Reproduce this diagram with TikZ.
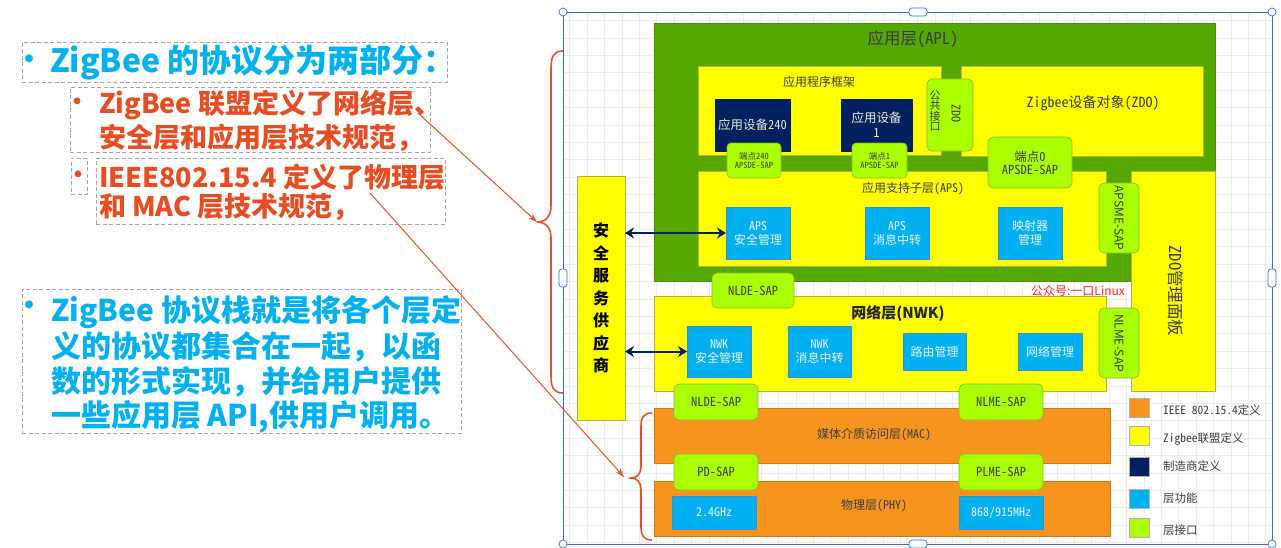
\documentclass[tikz,border=0pt]{standalone}
\usepackage{fontspec}
\setmainfont{Noto Sans CJK SC}
\newfontfamily\hwfont{Noto Sans CJK SC}[RawFeature=+hwid]
\usetikzlibrary{arrows.meta}
\definecolor{cgrn}{HTML}{55A800}
\definecolor{cgrnb}{HTML}{4A8F00}
\definecolor{cyel}{HTML}{FFFF00}
\definecolor{cyelb}{HTML}{B0B050}
\definecolor{csap}{HTML}{AAFF00}
\definecolor{csapb}{HTML}{8DB82E}
\definecolor{cblue}{HTML}{00B0F0}
\definecolor{cblueb}{HTML}{3D8FC0}
\definecolor{cbluet}{HTML}{EAF2FF}
\definecolor{cnavy}{HTML}{002060}
\definecolor{cnavyt}{HTML}{E8E8D8}
\definecolor{corg}{HTML}{F7941D}
\definecolor{corgb}{HTML}{C8781E}
\definecolor{ctxt}{HTML}{3C3C3C}
\definecolor{cred}{HTML}{E8502A}
\definecolor{credt}{HTML}{E84C22}
\definecolor{cblu}{HTML}{00B0F0}
\definecolor{cframe}{HTML}{2F6FE0}
\definecolor{cgrid}{HTML}{ECECEC}
\definecolor{cdash}{HTML}{A6A6A6}
\definecolor{cwm}{HTML}{FF2020}
\newcommand\fsz[2]{\fontsize{#1}{#2}\selectfont}
\begin{document}
\begin{tikzpicture}[x=1pt,y=-1pt,
  base/.style={inner sep=0pt, outer sep=0pt, anchor=north west, align=center},
  wh/.style 2 args={minimum width=#1pt, minimum height=#2pt},
  yel/.style={base, fill=cyel, draw=cyelb, line width=0.5pt, text=ctxt},
  grn/.style={base, fill=cgrn, draw=cgrnb, line width=0.5pt},
  sapbox/.style={base, fill=csap, draw=csapb, line width=0.6pt, rounded corners=5pt, text=ctxt, font=\hwfont\fsz{12.5}{15}},
  fun/.style={base, fill=cblue, draw=cblueb, line width=0.5pt, text=cbluet, font=\hwfont\fsz{12}{14}},
  mfr/.style={base, fill=cnavy, draw=cnavy, line width=0.5pt, text=cnavyt, font=\hwfont\fsz{12.5}{15}},
  orn/.style={base, fill=corg, draw=corgb, line width=0.5pt, text=ctxt},
  lbl/.style={inner sep=0pt, outer sep=0pt, text=ctxt, font=\hwfont\fsz{12}{14}},
  dbox/.style={base, draw=cdash, dash pattern=on 4pt off 2.5pt, line width=0.8pt},
  bluetxt/.style={inner sep=0pt, outer sep=0pt, anchor=west, text=cblu, font=\bfseries\fsz{30}{35}},
  redtxt/.style={inner sep=0pt, outer sep=0pt, anchor=west, text=credt, font=\bfseries\fsz{27}{33}},
  legsq/.style={base, wh={20}{19}, draw=black!30, line width=0.5pt},
  legtxt/.style={inner sep=0pt, outer sep=0pt, anchor=west, text=ctxt, font=\hwfont\fsz{11.5}{14}},
  redarrow/.style={draw=cred, line width=1pt, -{Stealth[length=9pt,width=6pt]}},
  bracestyle/.style={draw=cred, line width=1.6pt},
  dblarrow/.style={draw=cnavy, line width=2pt, {Stealth[length=9pt,width=11pt,inset=3pt]}-{Stealth[length=9pt,width=11pt,inset=3pt]}},
  handle/.style={draw=cframe, fill=white, line width=0.7pt}
]
\useasboundingbox (0,0) rectangle (1281,547);
\fill[white] (0,0) rectangle (1281,547);

% grid
\foreach \i in {0,...,40} {\draw[cgrid, line width=0.5pt] ({569.6+17.4*\i},12) -- ({569.6+17.4*\i},544);}
\foreach \j in {0,...,30} {\draw[cgrid, line width=0.5pt] (563,{20.5+17.4*\j}) -- (1272,{20.5+17.4*\j});}

% left texts
\node[dbox, wh={425}{40}] (box1) at (22,42) {};
\node[inner sep=0pt, text=cblu, font=\bfseries\fsz{28}{28}] (bul1) at (30,62) {•};
\node[bluetxt, font=\bfseries\fsz{32}{36}] (t1) at (50,62) {ZigBee 的协议分为两部分：};

\node[dbox, wh={360}{65}] (box2) at (70,87) {};
\node[inner sep=0pt, text=credt, font=\bfseries\fsz{24}{24}] (bul2) at (77,104) {•};
\node[redtxt] (t2a) at (99,105) {ZigBee 联盟定义了网络层、};
\node[redtxt] (t2b) at (99,138) {安全层和应用层技术规范，};

\node[dbox, wh={16}{36}] (box3) at (71,158) {};
\node[inner sep=0pt, text=credt, font=\bfseries\fsz{24}{24}] (bul3) at (78,177) {•};
\node[dbox, wh={349}{66}] (box4) at (96,158) {};
\node[redtxt] (t3a) at (99,177) {IEEE802.15.4 定义了物理层};
\node[redtxt] (t3b) at (99,207) {和 MAC 层技术规范，};

\node[dbox, wh={439}{144}] (box5) at (22,289) {};
\node[inner sep=0pt, text=cblu, font=\bfseries\fsz{28}{28}] (bul5) at (30,308) {•};
\node[bluetxt] (t5a) at (51,312) {ZigBee 协议栈就是将各个层定};
\node[bluetxt] (t5b) at (51,347) {义的协议都集合在一起，以函};
\node[bluetxt] (t5c) at (51,382) {数的形式实现，并给用户提供};
\node[bluetxt] (t5d) at (51,417) {一些应用层 API,供用户调用。};

% selection frame
\draw[cframe, line width=0.9pt] (563,12) rectangle (1272,544);

% APL
\node[grn, wh={561}{258}] (apl) at (654,23) {};
\node[lbl, font=\hwfont\fsz{16.5}{18}] (aplt) at (913,39) {应用层(APL)};
\node[yel, wh={243}{89}] (fw) at (698,66) {};
\node[lbl] (fwt) at (819,82) {应用程序框架};
\node[yel, wh={242}{90}] (zdo) at (961,66) {};
\node[lbl, font=\hwfont\fsz{14}{16}] (zdot) at (1093,103) {Zigbee设备对象(ZDO)};
\node[mfr, wh={75}{52}] (dev240) at (715,99) {应用设备240};
\node[mfr, wh={71}{52}] (dev1) at (841,99) {应用设备\\1};
\node[yel, wh={408}{95}] (aps) at (698,171) {};
\node[lbl] (apst) at (913,189) {应用支持子层(APS)};
\node[sapbox, wh={54}{35}, rounded corners=4pt, font=\hwfont\fsz{8.5}{9}] (ep240) at (727,143) {端点240\\APSDE-SAP};
\node[sapbox, wh={55}{35}, rounded corners=4pt, font=\hwfont\fsz{8.5}{9}] (ep1) at (852,143) {端点1\\APSDE-SAP};
\node[sapbox, wh={84}{51}, rounded corners=6pt, font=\hwfont\fsz{12.5}{13}] (ep0) at (988,137) {端点0\\APSDE-SAP};
\node[sapbox, wh={46}{72}] (zdoif) at (927,79) {};
\node[lbl, font=\hwfont\fsz{11}{10.5}, align=center] (zdoifa) at (935,111) {公\\共\\接\\口};
\node[lbl, font=\hwfont\fsz{12}{12}, rotate=-90] (zdoifb) at (956,113) {ZDO};
\node[yel, wh={84}{220}] (zdomgr) at (1131,171) {};
\node[lbl, font=\hwfont\fsz{16.5}{16}, rotate=-90] (zdomgrt) at (1176,291) {ZDO管理面板};
\node[sapbox, wh={40}{70}] (apsme) at (1099,183) {};
\node[lbl, font=\fsz{12}{12}, rotate=-90] (apsmet) at (1119,218) {APSME-SAP};
\node[fun, wh={64}{52}] (apssec) at (726,207) {APS\\安全管理};
\node[fun, wh={64}{52}] (apsmsg) at (865,207) {APS\\消息中转};
\node[fun, wh={64}{52}] (mapper) at (998,207) {映射器\\管理};

% NWK
\node[yel, wh={452}{95}] (nwk) at (654,296) {};
\node[lbl, font=\bfseries\fsz{15}{17}, text=black!85] (nwkt) at (898,314) {网络层(NWK)};
\node[sapbox, wh={82}{35}] (nldeu) at (712,273) {NLDE-SAP};
\node[fun, wh={64}{51}] (nwksec) at (687,326) {NWK\\安全管理};
\node[fun, wh={63}{51}] (nwkmsg) at (788,326) {NWK\\消息中转};
\node[fun, wh={63}{37}] (route) at (903,333) {路由管理};
\node[fun, wh={64}{37}] (netm) at (1018,333) {网络管理};
\node[sapbox, wh={40}{70}] (nlmer) at (1099,308) {};
\node[lbl, font=\fsz{12}{12}, rotate=-90] (nlmert) at (1119,343) {NLME-SAP};
\node[inner sep=0pt, text=cwm, font=\fsz{12}{12}] (wm) at (1078,291) {公众号:一口Linux};

% MAC / PHY
\node[orn, wh={456}{55}] (mac) at (654,408) {};
\node[lbl] (mact) at (874,435) {媒体介质访问层(MAC)};
\node[sapbox, wh={84}{36}] (nldel) at (674,384) {NLDE-SAP};
\node[sapbox, wh={84}{36}] (nlmel) at (959,384) {NLME-SAP};
\node[orn, wh={456}{55}] (phy) at (654,481) {};
\node[lbl] (phyt) at (874,506) {物理层(PHY)};
\node[sapbox, wh={84}{36}] (pdsap) at (674,454) {PD-SAP};
\node[sapbox, wh={84}{36}] (plme) at (959,454) {PLME-SAP};
\node[fun, wh={84}{33}] (ghz) at (672,496) {2.4GHz};
\node[fun, wh={84}{33}] (mhz) at (959,496) {868/915MHz};

% security provider
\node[yel, wh={48}{244}] (sec) at (577,176) {};
\node[inner sep=0pt, text=black, font=\bfseries\fsz{16}{22.5}, align=center] (sect) at (601,298) {安\\全\\服\\务\\供\\应\\商};
\draw[dblarrow] (sec.east |- apssec.west) -- (apssec.west);
\draw[dblarrow] (sec.east |- nwksec.west) -- (nwksec.west);

% legend
\node[legsq, fill=corg] (lg1) at (1129,398) {};
\node[legsq, fill=cyel] (lg2) at (1129,426) {};
\node[legsq, fill=cnavy] (lg3) at (1129,457) {};
\node[legsq, fill=cblue] (lg4) at (1129,489) {};
\node[legsq, fill=csap] (lg5) at (1129,518) {};
\node[legtxt] (lt1) at (1163,410) {IEEE 802.15.4定义};
\node[legtxt] (lt2) at (1163,439) {Zigbee联盟定义};
\node[legtxt] (lt3) at (1163,466) {制造商定义};
\node[legtxt] (lt4) at (1163,498) {层功能};
\node[legtxt] (lt5) at (1163,530) {层接口};

% braces
\draw[bracestyle] (563,51) .. controls (554,51) and (551,56) .. (551,68) -- (551,206) .. controls (551,216) and (546,222) .. (537,222) .. controls (546,222) and (551,228) .. (551,238) -- (551,376) .. controls (551,388) and (554,393) .. (563,393);
\draw[bracestyle] (652,413) .. controls (644,413) and (641,417) .. (641,426) -- (641,466) .. controls (641,474) and (637,478) .. (631,478) .. controls (637,478) and (641,482) .. (641,490) -- (641,527) .. controls (641,536) and (644,540) .. (652,540);
\coordinate (tip1) at (537,222);
\coordinate (tip2) at (624,477);
\coordinate (s1) at (418,113);
\coordinate (s2) at (370,193);
\draw[redarrow] (s1) -- (tip1);
\draw[redarrow] (s2) -- (tip2);

% frame handles
\foreach \p in {(563,12),(1272,12),(563,544),(1272,544)} {\draw[handle] \p circle (4);}
\draw[handle, rounded corners=3pt] (909,8) rectangle (927,16);
\draw[handle, rounded corners=3pt] (909,540) rectangle (927,548);
\draw[handle, rounded corners=3pt] (559,269) rectangle (567,287);
\draw[handle, rounded corners=3pt] (1268,269) rectangle (1276,287);
\end{tikzpicture}
\end{document}
